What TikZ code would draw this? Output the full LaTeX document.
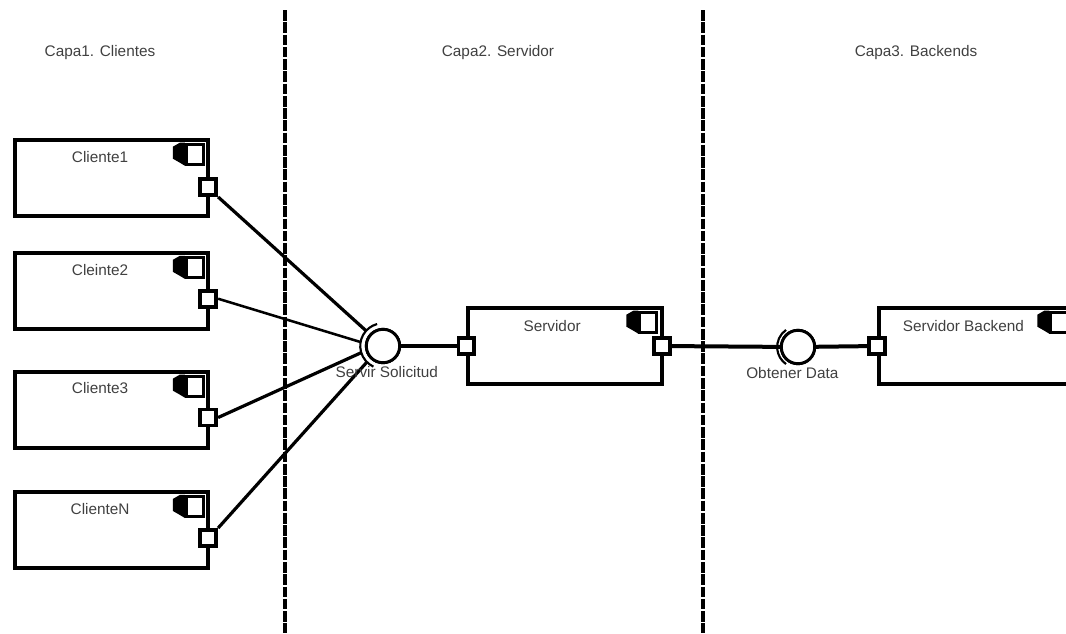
\documentclass[tikz,border=0pt]{standalone}
\usepackage{fontspec}
\setmainfont{Liberation Sans}
\usetikzlibrary{positioning,calc}

\begin{document}
\begin{tikzpicture}[
    x=0.75pt, y=-0.75pt,
    compbox/.style={rectangle, draw, line width=2.9pt, minimum width=5.1cm, minimum height=2.0cm, inner sep=0pt},
    port/.style={rectangle, draw, fill=white, line width=2.8pt, minimum size=0.42cm, inner sep=0pt},
    ball/.style={circle, draw, fill=white, line width=2.2pt, minimum size=0.88cm, inner sep=0pt},
    socket/.style={circle, minimum size=1.2cm, inner sep=0pt, outer sep=0pt},
    txt/.style={font=\fontsize{11.5}{13}\selectfont, text=black!75, inner sep=0pt},
    wire/.style={line width=2.4pt},
    sep/.style={line width=2.8pt, dash pattern=on 8pt off 1.2pt},
]
\path[use as bounding box, clip] (0,0) rectangle (1066,633);

% Layer titles
\node[txt] (capa1) at (100,53) {Capa1. Clientes};
\node[txt] (capa2) at (498,53) {Capa2. Servidor};
\node[txt] (capa3) at (916,53) {Capa3. Backends};

% Layer separators
\coordinate (sep1top) at (285,10);
\coordinate (sep1bot) at (285,633);
\coordinate (sep2top) at (703,10);
\coordinate (sep2bot) at (703,633);
\draw[sep] (sep1top) -- (sep1bot);
\draw[sep] (sep2top) -- (sep2bot);

% Clients
\node[compbox] (cliente1) at (111.5,178) {};
\node[compbox, below=0.88cm of cliente1] (cliente2) {};
\node[compbox, below=1.03cm of cliente2] (cliente3) {};
\node[compbox, below=1.07cm of cliente3] (clienteN) {};

% Servers
\node[compbox] (servidor) at (565,346) {};
\node[compbox, right=5.63cm of servidor] (backend) {};

% Box titles
\node[txt, below=0.33cm of cliente1.north, xshift=-0.3cm] (t1) {Cliente1};
\node[txt, below=0.33cm of cliente2.north, xshift=-0.3cm] (t2) {Cleinte2};
\node[txt, below=0.33cm of cliente3.north, xshift=-0.3cm] (t3) {Cliente3};
\node[txt, below=0.33cm of clienteN.north, xshift=-0.3cm] (tN) {ClienteN};
\node[txt, below=0.37cm of servidor.north, xshift=-0.34cm] (ts) {Servidor};
\node[txt, below=0.37cm of backend.north, xshift=-0.33cm] (tb) {Servidor Backend};

% Component icons
\foreach \b in {cliente1,cliente2,cliente3,clienteN,servidor,backend}{
    \node[rectangle, draw, fill=white, line width=2.2pt, minimum width=0.45cm, minimum height=0.53cm, inner sep=0pt,
        below left=0.12cm and 0.12cm of \b.north east, xshift=-0.02cm] (\b-icon) {};
    \fill (\b-icon.north west) -- ++(-5,0) -- ++(-7,4) -- ++(0,12) -- ++(7,4) -- (\b-icon.south west) -- cycle;
}

% Ports
\node[port, xshift=-0.05cm, yshift=-0.24cm] (p1) at (cliente1.east) {};
\node[port, xshift=-0.05cm, yshift=-0.2cm] (p2) at (cliente2.east) {};
\node[port, xshift=-0.05cm, yshift=-0.2cm] (p3) at (cliente3.east) {};
\node[port, xshift=-0.05cm, yshift=-0.2cm] (pN) at (clienteN.east) {};
\node[port] (ps1) at (servidor.west) {};
\node[port, xshift=-0.05cm] (ps2) at (servidor.east) {};
\node[port] (pb) at (backend.west) {};

% Interfaces
\node[ball] (servir) at (383,346) {};
\node[socket] (servirsock) at (servir) {};
\node[ball] (obtener) at (798,347) {};
\node[socket, minimum size=1.1cm] (obtenersock) at (obtener) {};

% Wires
\draw[wire] (p1.south east) -- (servirsock.138);
\draw[wire, line width=1.9pt] (p2.east) -- (servirsock.170);
\draw[wire] (p3.east) -- (servirsock.197);
\draw[wire] (pN.north east) -- (servirsock.225);
\draw[wire, line width=3pt] (servir) -- (ps1);
\draw[wire, line width=3pt] (ps2) -- (obtener);
\draw[wire, line width=3pt] (obtener) -- (pb);
\node[ball] at (servir) {};
\node[ball] at (obtener) {};

% Sockets
\draw[line width=1.6pt] (servirsock.105) arc[start angle=105, end angle=245, radius=0.6cm];
\draw[line width=1.6pt] (obtenersock.125) arc[start angle=125, end angle=235, radius=0.55cm];

% Interface labels
\node[txt, below=0.06cm of servir, xshift=0.1cm] (ls) {Servir Solicitud};
\node[txt, below=0.06cm of obtener, xshift=-0.15cm] (lo) {Obtener Data};

\end{tikzpicture}
\end{document}
